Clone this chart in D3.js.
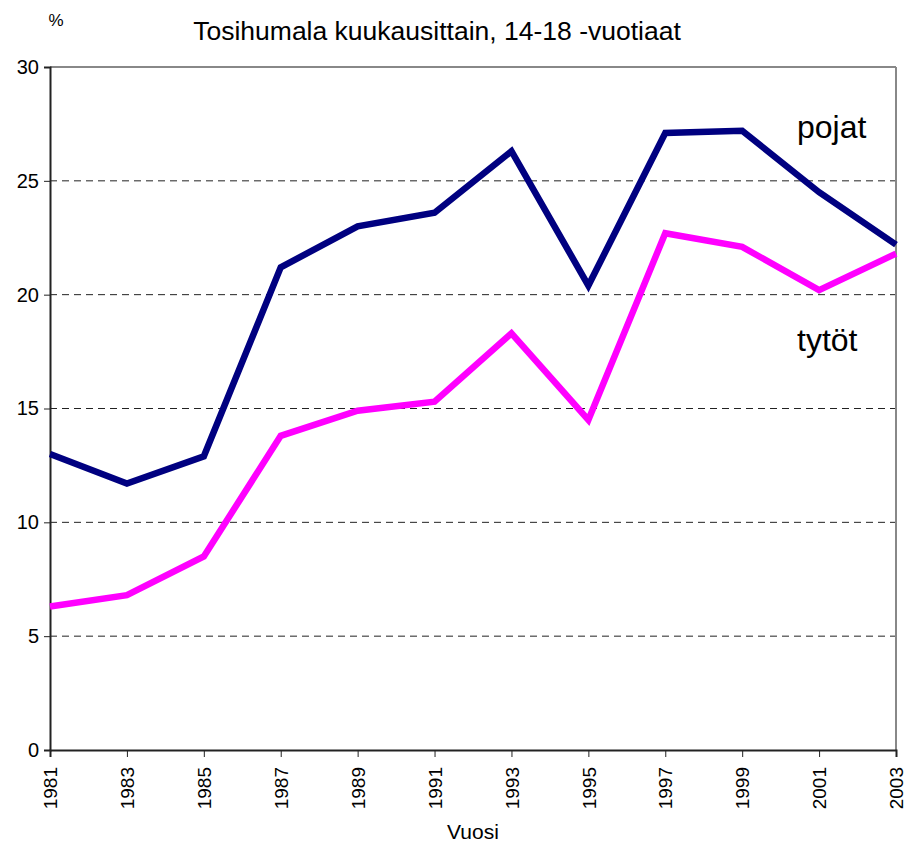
<!DOCTYPE html>
<html>
<head>
<meta charset="utf-8">
<script src="https://cdn.jsdelivr.net/npm/d3@7"></script>
<style>
  body { margin: 0; background: #fff; }
  text { font-family: "Liberation Sans", Arial, sans-serif; fill: #000; }
</style>
</head>
<body>
<svg id="chart" width="904" height="843"></svg>
<script>
var years = [1981, 1983, 1985, 1987, 1989, 1991, 1993, 1995, 1997, 1999, 2001, 2003];
var pojat = [13.0, 11.7, 12.9, 21.2, 23.0, 23.6, 26.3, 20.4, 27.1, 27.2, 24.5, 22.2];
var tytot = [6.3, 6.8, 8.5, 13.8, 14.9, 15.3, 18.3, 14.5, 22.7, 22.1, 20.2, 21.8];
var yTicks = [0, 5, 10, 15, 20, 25, 30];

var svg = d3.select("#chart");
var mLeft = 50, mRight = 896, mTop = 67, mBottom = 750;

var x = d3.scaleLinear().domain([1981, 2003]).range([mLeft, mRight]);
var y = d3.scaleLinear().domain([0, 30]).range([mBottom, mTop]);

// gridlines
svg.append("g")
  .selectAll("line")
  .data(yTicks.filter(function(d) { return d > 0 && d < 30; }))
  .enter().append("line")
  .attr("x1", mLeft).attr("x2", mRight)
  .attr("y1", function(d) { return y(d); })
  .attr("y2", function(d) { return y(d); })
  .attr("stroke", "#222")
  .attr("stroke-width", 1)
  .attr("stroke-dasharray", "7,5");

// plot frame top / right
svg.append("line").attr("x1", mLeft).attr("x2", mRight).attr("y1", mTop).attr("y2", mTop)
  .attr("stroke", "#888").attr("stroke-width", 2);
svg.append("line").attr("x1", mRight).attr("x2", mRight).attr("y1", mTop).attr("y2", mBottom)
  .attr("stroke", "#888").attr("stroke-width", 2);

// y axis
var yAxis = svg.append("g")
  .attr("transform", "translate(" + mLeft + ",0)")
  .call(d3.axisLeft(y).tickValues(yTicks).tickSize(6).tickPadding(5));
yAxis.select(".domain").attr("stroke", "#222").attr("stroke-width", 2);
yAxis.selectAll(".tick line").attr("stroke", "#222");
yAxis.selectAll("text").style("font-size", "20px").attr("fill", "#000");

// x axis
var xAxis = svg.append("g")
  .attr("transform", "translate(0," + mBottom + ")")
  .call(d3.axisBottom(x).tickValues(years).tickFormat(d3.format("d")).tickSize(7));
xAxis.select(".domain").attr("stroke", "#222").attr("stroke-width", 2);
xAxis.selectAll(".tick line").attr("stroke", "#222");
xAxis.selectAll("text")
  .style("font-size", "19px")
  .attr("fill", "#000")
  .attr("transform", "rotate(-90)")
  .attr("text-anchor", "end")
  .attr("x", -17)
  .attr("y", 0)
  .attr("dy", "0.35em");

var line = d3.line()
  .x(function(d, i) { return x(years[i]); })
  .y(function(d) { return y(d); });

svg.append("path").datum(pojat)
  .attr("d", line)
  .attr("fill", "none")
  .attr("stroke", "#000080")
  .attr("stroke-width", 6.5)
  .attr("stroke-linejoin", "miter");

svg.append("path").datum(tytot)
  .attr("d", line)
  .attr("fill", "none")
  .attr("stroke", "#ff00ff")
  .attr("stroke-width", 6.5)
  .attr("stroke-linejoin", "miter");

// texts
svg.append("text").attr("x", 437).attr("y", 40).attr("text-anchor", "middle")
  .style("font-size", "26.5px").text("Tosihumala kuukausittain, 14-18 -vuotiaat");
svg.append("text").attr("x", 56).attr("y", 26).attr("text-anchor", "middle")
  .style("font-size", "17px").text("%");
svg.append("text").attr("x", 473).attr("y", 839).attr("text-anchor", "middle")
  .style("font-size", "21px").text("Vuosi");
svg.append("text").attr("x", 797).attr("y", 138)
  .style("font-size", "32px").text("pojat");
svg.append("text").attr("x", 797).attr("y", 351)
  .style("font-size", "32px").text("tytöt");
</script>
</body>
</html>
